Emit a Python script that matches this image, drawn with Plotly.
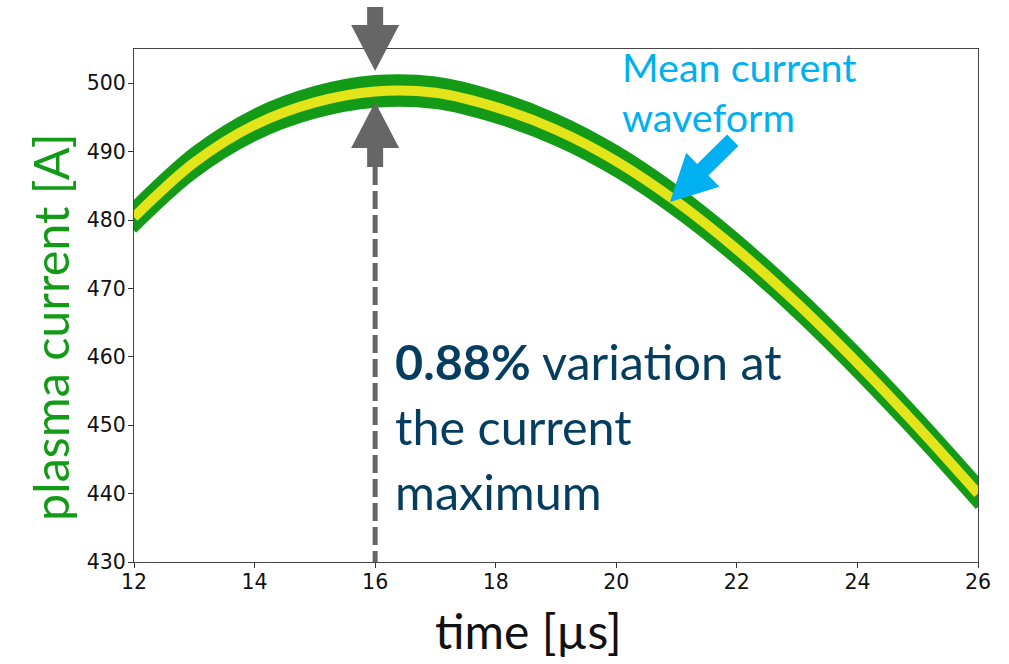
import plotly.graph_objects as go

# ---- data ----
time_us = [12, 13, 14, 15, 16, 17, 18, 19, 20, 21, 22, 23, 24, 25, 26]
mean_current = [480.4, 488.4, 493.9, 497.2, 498.8, 498.6, 496.5, 493.2, 488.6,
                482.7, 475.7, 467.8, 459.1, 449.8, 440.0]
band_halfwidth = 1.95  # A, half width of the spread of the shots
x_ticks = [12, 14, 16, 18, 20, 22, 24, 26]
y_ticks = [430, 440, 450, 460, 470, 480, 490, 500]
peak_time = 16

GREEN = "#139B18"
YELLOW = "#E4E41A"
GRAY = "#666666"
BLUE = "#00B0F0"
NAVY = "#053D5F"
TXT_FONT = "Lato"

W, H = 1009, 664
PL, PR, PT, PB = 134, 978, 49, 562  # plot area in pixels
L, T, R, B = PL, PT, W - PR, H - PB
PW, PH = PR - PL, PB - PT

def pxx(x):
    return (x - PL) / PW

def pxy(y):
    return (PB - y) / PH

lower = [m - band_halfwidth for m in mean_current]
upper = [m + band_halfwidth for m in mean_current]

fig = go.Figure()
fig.add_trace(go.Scatter(x=time_us, y=lower, mode="lines",
                         line=dict(color=GREEN, width=6, shape="spline"),
                         hoverinfo="skip", showlegend=False))
fig.add_trace(go.Scatter(x=time_us, y=upper, mode="lines", fill="tonexty",
                         fillcolor=GREEN,
                         line=dict(color=GREEN, width=6, shape="spline"),
                         hoverinfo="skip", showlegend=False))
fig.add_trace(go.Scatter(x=time_us, y=mean_current, mode="lines",
                         line=dict(color=YELLOW, width=10, shape="spline"),
                         showlegend=False))

shapes = []
xc = PL + (peak_time - time_us[0]) / (time_us[-1] - time_us[0]) * PW

def poly(pts, color):
    d = "M " + " L ".join(f"{pxx(x):.5f},{pxy(y):.5f}" for x, y in pts) + " Z"
    return dict(type="path", xref="paper", yref="paper", path=d,
                fillcolor=color, line=dict(width=0), layer="above")

# upper gray arrow (pointing down)
shapes.append(poly([(xc - 8, 7), (xc + 8, 7), (xc + 8, 25), (xc + 24, 25),
                    (xc, 71), (xc - 24, 25), (xc - 8, 25)], GRAY))
# lower gray arrow (pointing up)
shapes.append(poly([(xc, 102), (xc + 24, 148), (xc + 8, 148), (xc + 8, 167),
                    (xc - 8, 167), (xc - 8, 148), (xc - 24, 148)], GRAY))
# dashed line
shapes.append(dict(type="line", xref="paper", yref="paper",
                   x0=pxx(xc), x1=pxx(xc), y0=pxy(167), y1=pxy(562),
                   line=dict(color=GRAY, width=5, dash="18px,6px"), layer="above"))

# blue arrow
tip = (670, 202)
dvec = (0.713, -0.701)
pvec = (0.701, 0.713)
head_len, head_hw, shaft_hw, total_len = 46, 23.7, 8, 88
bc = (tip[0] + head_len * dvec[0], tip[1] + head_len * dvec[1])
ec = (tip[0] + total_len * dvec[0], tip[1] + total_len * dvec[1])
def off(c, s):
    return (c[0] + s * pvec[0], c[1] + s * pvec[1])
shapes.append(poly([tip, off(bc, head_hw), off(bc, shaft_hw), off(ec, shaft_hw),
                    off(ec, -shaft_hw), off(bc, -shaft_hw), off(bc, -head_hw)], BLUE))

annotations = []
def txt(text, x, y, size, color, xanchor="left", yanchor="middle", angle=0):
    annotations.append(dict(text=text, xref="paper", yref="paper",
                            x=pxx(x), y=pxy(y), xanchor=xanchor, yanchor=yanchor,
                            showarrow=False, textangle=angle,
                            font=dict(family=TXT_FONT, size=size, color=color)))

txt("Mean current", 620, 66, 39.5, BLUE)
txt("waveform", 620, 116, 39.5, BLUE)
txt("<b>0.88%</b> variation at", 393, 361, 48.5, NAVY)
txt("the current", 393, 426, 48.5, NAVY)
txt("maximum", 393, 491, 48.5, NAVY)
txt("time [µs]", 528, 630, 48, "#111111", xanchor="center")
txt("plasma current [A]", 50, 327, 48.5, GREEN, xanchor="center", angle=-90)

tickfont = dict(family="DejaVu Sans", size=20.5, color="#111")
fig.update_layout(
    width=W, height=H,
    margin=dict(l=L, r=R, t=T, b=B),
    paper_bgcolor="white", plot_bgcolor="white",
    shapes=shapes, annotations=annotations,
    xaxis=dict(range=[12, 26], tickvals=x_ticks, ticks="outside", ticklen=5,
               tickcolor="#333", showgrid=False, zeroline=False,
               showline=True, linecolor="#444", mirror=True, linewidth=1,
               tickfont=tickfont, ticklabelstandoff=-4),
    yaxis=dict(range=[430, 505], tickvals=y_ticks, ticks="outside", ticklen=5,
               tickcolor="#333", showgrid=False, zeroline=False,
               showline=True, linecolor="#444", mirror=True, linewidth=1,
               tickfont=tickfont, ticklabelstandoff=-2),
)

# remove the default 8px page margin so the figure fills the window
fig.write_html("out.html", config={"displayModeBar": False},
               post_script="document.body.style.margin='0px';document.body.style.overflow='hidden';")
